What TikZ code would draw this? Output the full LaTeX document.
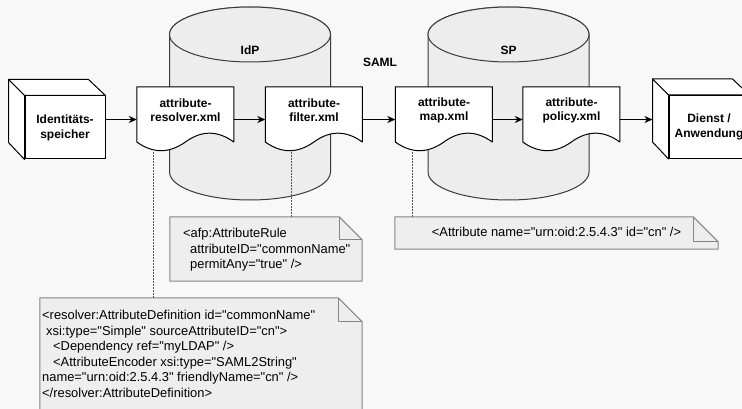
\documentclass[tikz,border=0pt]{standalone}
\usepackage{fontspec}
\setmainfont{Liberation Sans}
\newfontfamily\notefont{Liberation Sans}
\usetikzlibrary{arrows.meta,calc}
\definecolor{bgc}{HTML}{F8F8F8}
\definecolor{cylfill}{HTML}{EDEDED}
\definecolor{cylstroke}{HTML}{3A3A3A}
\definecolor{notefill}{HTML}{EEEEEE}
\definecolor{notestroke}{HTML}{858585}
\definecolor{dotc}{HTML}{555555}
\tikzset{
  boldlbl/.style={font=\fontsize{12}{14}\selectfont\bfseries, align=center, inner sep=0pt},
  docbox/.style={minimum width=97pt, minimum height=65pt, inner sep=0pt},
  docline/.style={draw=black, fill=white, line width=1pt, line join=round},
  cubebox/.style={draw=black, fill=white, line width=1pt, minimum width=80pt, minimum height=63pt,
    inner sep=0pt, font=\fontsize{12}{15}\selectfont\bfseries, align=center},
  cubeline/.style={draw=black, fill=white, line width=1pt, line join=round},
  cylline/.style={draw=cylstroke, fill=cylfill, line width=1pt},
  notebox/.style={inner sep=0pt},
  noteline/.style={draw=notestroke, fill=notefill, line width=1pt, line join=round},
  notetext/.style={font=\notefont\fontsize{12.9}{15.6}\selectfont, inner sep=0pt},
  arr/.style={line width=1.2pt, -{Stealth[length=8pt,width=7pt,inset=2.5pt]}},
  dotline/.style={draw=dotc, line width=0.8pt, dash pattern=on 1.5pt off 1.5pt},
}
\newcommand{\docoutline}[1]{%
  \begin{scope}[shift={(#1.north west)}]
    \draw[docline] (0,0) -- (97,0) -- (97,55.25)
      .. controls (80.83,43.42) and (64.67,43.42) .. (48.5,55.25)
      .. controls (32.33,66.75) and (16.17,66.75) .. (0,55.25) -- cycle;
  \end{scope}}
\newcommand{\cubefaces}[1]{%
  \draw[cubeline] (#1.north west) -- ++(-16,-16) -- ++(80,0) -- (#1.north east) -- cycle;
  \draw[cubeline] (#1.north west) -- ++(-16,-16) -- ++(0,63) -- (#1.south west) -- cycle;}
\newcommand{\noteoutline}[2]{%
  \draw[noteline] (#1.north west) -- ([xshift=-#2pt]#1.north east) -- ([yshift=-#2pt]#1.north east)
    -- (#1.south east) -- (#1.south west) -- cycle;
  \draw[noteline, fill=none] ([xshift=-#2pt]#1.north east) -- ([xshift=-#2pt,yshift=-#2pt]#1.north east)
    -- ([yshift=-#2pt]#1.north east);}
\begin{document}
\begin{tikzpicture}[x=1pt, y=-1pt]
  \useasboundingbox (0,0) rectangle (742,409);
  \clip (0,0) rectangle (742,409);
  \fill[bgc] (0,0) rectangle (742,409);

  % cylinders
  \draw[cylline] (169.5,34.5) -- (169.5,172) arc[start angle=180, end angle=0, x radius=80.5, y radius=28]
    -- (330.5,34.5) arc[start angle=0, end angle=-180, x radius=80.5, y radius=27.5] -- cycle;
  \draw[cylline] (250,34.5) ellipse[x radius=80.5, y radius=27.5];
  \draw[cylline] (428,34.5) -- (428,172) arc[start angle=180, end angle=0, x radius=80.5, y radius=28]
    -- (589,34.5) arc[start angle=0, end angle=-180, x radius=80.5, y radius=27.5] -- cycle;
  \draw[cylline] (508.5,34.5) ellipse[x radius=80.5, y radius=27.5];
  \node[boldlbl] (idp) at (250,50) {IdP};
  \node[boldlbl] (sp) at (508.5,50) {SP};
  \node[boldlbl] (saml) at (380,62) {SAML};

  % documents
  \path node[docbox] (res) at (185.5,119.5) {}
        node[docbox] (fil) at (314,119.5) {}
        node[docbox] (map) at (444,119.5) {}
        node[docbox] (pol) at (571.5,119.5) {};
  \docoutline{res}
  \docoutline{fil}
  \docoutline{map}
  \docoutline{pol}
  \node[boldlbl] (resT) at ([yshift=9pt]res.center) {attribute-\\resolver.xml};
  \node[boldlbl] (filT) at ([yshift=9pt]fil.center) {attribute-\\filter.xml};
  \node[boldlbl] (mapT) at ([yshift=9pt]map.center) {attribute-\\map.xml};
  \node[boldlbl] (polT) at ([yshift=9pt]pol.center) {attribute-\\policy.xml};

  % cubes
  \node[cubebox] (cubeL) at (65,127.5) {Identitäts-\\speicher};
  \cubefaces{cubeL}
  \node[cubebox] (cubeR) at (709,127) {Dienst /\\Anwendung};
  \cubefaces{cubeR}
  \coordinate (cubeRback) at ([xshift=-16pt]cubeR.west);

  % arrows
  \draw[arr] (cubeL.east |- res.west) -- (res.west);
  \draw[arr] (res) -- (fil);
  \draw[arr] (fil) -- (map);
  \draw[arr] (map) -- (pol);
  \draw[arr] (pol.east) -- (cubeRback |- pol.east);

  % notes
  \node[notebox, minimum width=192pt, minimum height=64pt] (noteA) at (266,249) {};
  \noteoutline{noteA}{23}
  \node[notebox, minimum width=323pt, minimum height=32pt] (noteB) at (556.5,233) {};
  \noteoutline{noteB}{25}
  \node[notebox, minimum width=322pt, minimum height=122pt] (noteC) at (201,359) {};
  \noteoutline{noteC}{24}

  \node[notetext, anchor=base west] (noteAtext) at (183,237.5) {\begin{tabular}[t]{@{}l@{}}
    <afp:AttributeRule\\
    \hspace*{7pt}attributeID="commonName"\\
    \hspace*{7pt}permitAny="true" />
  \end{tabular}};
  \node[notetext] (noteBtext) at ([yshift=1pt]noteB.center) {<Attribute name="urn:oid:2.5.4.3" id="cn" />};
  \node[notetext, anchor=base west] (noteCtext) at (42,319.5) {\begin{tabular}[t]{@{}l@{}}
    <resolver:AttributeDefinition id="commonName"\\
    \hspace*{4pt}xsi:type="Simple" sourceAttributeID="cn">\\
    \hspace*{11pt}<Dependency ref="myLDAP" />\\
    \hspace*{11pt}<AttributeEncoder xsi:type="SAML2String"\\
    name="urn:oid:2.5.4.3" friendlyName="cn" />\\
    </resolver:AttributeDefinition>
  \end{tabular}};

  % dotted connectors
  \coordinate (d1) at ([xshift=17pt]res.south west);
  \coordinate (d2) at ([xshift=26.5pt]fil.south west);
  \coordinate (d3) at ([xshift=17.5pt]map.south west);
  \draw[dotline] (d1) -- (d1 |- noteC.north);
  \draw[dotline] (d2) -- (d2 |- noteA.north);
  \draw[dotline] (d3) -- (d3 |- noteB.north);
\end{tikzpicture}
\end{document}
